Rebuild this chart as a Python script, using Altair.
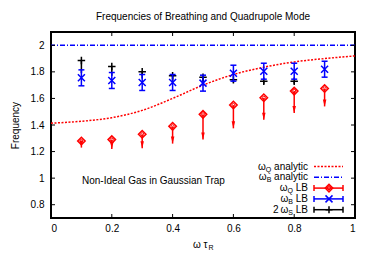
import altair as alt
import pandas as pd

FONT = "Liberation Sans"
RED = "#ff0000"
BLUE = "#0000ff"

# ---- data ----
lb_x = [0.1, 0.2, 0.3, 0.4, 0.5, 0.6, 0.7, 0.8, 0.9]
q_lb = [1.28, 1.29, 1.33, 1.39, 1.48, 1.55, 1.605, 1.655, 1.675]
q_lb_low = [1.23, 1.22, 1.225, 1.26, 1.29, 1.375, 1.44, 1.49, 1.54]
b_lb = [1.755, 1.735, 1.72, 1.72, 1.715, 1.79, 1.805, 1.805, 1.82]
b_err = [0.06, 0.06, 0.06, 0.06, 0.06, 0.06, 0.06, 0.06, 0.06]
s_x = [0.1, 0.2, 0.3, 0.4, 0.5, 0.6, 0.7, 0.8]
s2_lb = [1.885, 1.84, 1.80, 1.77, 1.76, 1.74, 1.73, 1.73]
s2_low = [1.79, 1.77, 1.75, 1.73, 1.72, 1.72, 1.71, 1.71]
qa_x = [0.0, 0.1, 0.2, 0.3, 0.4, 0.5, 0.6, 0.7, 0.8, 0.9, 1.0]
qa_y = [1.414, 1.428, 1.455, 1.51, 1.60, 1.70, 1.78, 1.835, 1.875, 1.90, 1.92]
b_analytic = [2.0]
x_ticks = [0.0, 0.2, 0.4, 0.6, 0.8, 1.0]
y_ticks = [0.8, 1.0, 1.2, 1.4, 1.6, 1.8, 2.0]

W, H = 304, 186

q_df = pd.DataFrame({"x": lb_x, "y": q_lb, "lo": q_lb_low})
b_df = pd.DataFrame({"x": lb_x, "y": b_lb})
b_df["lo"] = b_df["y"] - pd.Series(b_err)
b_df["hi"] = b_df["y"] + pd.Series(b_err)
s_df = pd.DataFrame({"x": s_x, "y": s2_lb, "lo": s2_low})
qa_df = pd.DataFrame({"x": qa_x, "y": qa_y})
ba_df = pd.DataFrame({"y": b_analytic})
xt_df = pd.DataFrame({"x": x_ticks[1:-1]})
yt_df = pd.DataFrame({"y": y_ticks})
one = pd.DataFrame({"k": [0]})

xs = alt.Scale(domain=[0, 1], nice=False, zero=False)
ys = alt.Scale(domain=[0.7, 2.1], nice=False, zero=False)
xaxis = alt.Axis(values=x_ticks, format="~g", title=None, labelPadding=5)
yaxis = alt.Axis(values=y_ticks, format="~g", title="Frequency", labelPadding=7,
                 titlePadding=10)


def X(f):
    return alt.X(f, type="quantitative", scale=xs, axis=xaxis)


def Y(f):
    return alt.Y(f, type="quantitative", scale=ys, axis=yaxis)


PLUS = "M-1,0L1,0M0,-1L0,1"
CROSS = "M-1,-1L1,1M-1,1L1,-1"

layers = []
# analytic curves
layers.append(alt.Chart(qa_df).mark_line(color=RED, strokeWidth=1.5, strokeDash=[2, 1.5],
                                         interpolate="monotone").encode(x=X("x"), y=Y("y")))
layers.append(alt.Chart(ba_df).mark_rule(color=BLUE, strokeWidth=1.5,
                                         strokeDash=[5, 2, 1, 2]).encode(y=Y("y")))
# omega_Q LB with downward arrows
layers.append(alt.Chart(q_df).mark_rule(color=RED, strokeWidth=1.5).encode(
    x=X("x"), y=Y("y"), y2="lo"))
layers.append(alt.Chart(q_df).mark_point(
    shape="M-0.5,-1L0.5,-1L0,1Z", filled=True, color=RED, size=49, yOffset=-3.5,
    opacity=1).encode(x=X("x"), y=Y("lo")))
layers.append(alt.Chart(q_df).mark_point(shape="diamond", filled=False, color=RED, size=56,
                                         strokeWidth=1.5, opacity=1).encode(x=X("x"), y=Y("y")))
layers.append(alt.Chart(q_df).mark_point(shape="circle", filled=False, color=RED, size=10,
                                         strokeWidth=1, opacity=1).encode(x=X("x"), y=Y("y")))

# 2 omega_S LB (drawn beneath the blue points)
layers.append(alt.Chart(s_df).mark_rule(color="black", strokeWidth=1.5).encode(
    x=X("x"), y=Y("y"), y2="lo"))
layers.append(alt.Chart(s_df).mark_point(shape=PLUS, filled=False, color="black", size=56,
                                         strokeWidth=1.5, opacity=1).encode(x=X("x"), y=Y("y")))

# omega_B LB
layers.append(alt.Chart(b_df).mark_rule(color=BLUE, strokeWidth=1.5).encode(
    x=X("x"), y=Y("lo"), y2="hi"))
for f in ("lo", "hi"):
    layers.append(alt.Chart(b_df).mark_tick(color=BLUE, orient="horizontal", size=6,
                                            thickness=1.5, opacity=1).encode(x=X("x"), y=Y(f)))
layers.append(alt.Chart(b_df).mark_point(shape=CROSS, filled=False, color=BLUE, size=49,
                                         strokeWidth=1.5, opacity=1).encode(x=X("x"), y=Y("y")))

# inward ticks on all four sides
layers.append(alt.Chart(xt_df).mark_rule(color="black", strokeWidth=1).encode(
    x=X("x"), y=alt.value(H), y2=alt.value(H - 4)))
layers.append(alt.Chart(xt_df).mark_rule(color="black", strokeWidth=1).encode(
    x=X("x"), y=alt.value(0), y2=alt.value(4)))
layers.append(alt.Chart(yt_df).mark_rule(color="black", strokeWidth=1).encode(
    y=Y("y"), x=alt.value(0), x2=alt.value(4)))
layers.append(alt.Chart(yt_df).mark_rule(color="black", strokeWidth=1).encode(
    y=Y("y"), x=alt.value(W), x2=alt.value(W - 4)))


def txt(text, x, y, size=10, align="right", dy=0):
    return alt.Chart(one).mark_text(text=text, align=align, baseline="middle", fontSize=size,
                                    font=FONT, dy=dy, color="black").encode(
        x=alt.value(x), y=alt.value(y))


# in-plot label
layers.append(txt("Non-Ideal Gas in Gaussian Trap", 31, 149, align="left"))

# legend
rows = [134.5, 145.3, 156.1, 166.9, 177.7]
TR = 257
SX0, SX1, SXC = 263, 292, 278
legend_items = [
    ("Q", " analytic", RED, "line"),
    ("B", " analytic", BLUE, "line"),
    ("Q", " LB", RED, "eb"),
    ("B", " LB", BLUE, "eb"),
    ("S", " LB", "black", "eb"),
]
tail_w = {" analytic": 36.7, " LB": 15.0}
sub_w = {"Q": 5.45, "B": 4.67, "S": 4.67}
OMEGA_W = 7.0
for i, (sub, tail, color, kind) in enumerate(legend_items):
    yy = rows[i]
    layers.append(txt(tail.strip(), TR, yy))
    sx = TR - tail_w[tail]
    layers.append(txt(sub, sx, yy, size=7, dy=3))
    ox = sx - sub_w[sub]
    layers.append(txt("ω", ox, yy))
    if i == 4:
        layers.append(txt("2", ox - OMEGA_W - 2.8, yy))
    if kind == "line":
        dash = [2, 1.5] if i == 0 else [5, 2, 1, 2]
        layers.append(alt.Chart(one).mark_rule(color=color, strokeWidth=1.5, strokeDash=dash).encode(
            x=alt.value(SX0), x2=alt.value(SX1), y=alt.value(yy)))
    else:
        layers.append(alt.Chart(one).mark_rule(color=color, strokeWidth=1.5).encode(
            x=alt.value(SX0), x2=alt.value(SX1), y=alt.value(yy)))
        for ex in (SX0, SX1):
            layers.append(alt.Chart(one).mark_rule(color=color, strokeWidth=1.5).encode(
                x=alt.value(ex), y=alt.value(yy - 3), y2=alt.value(yy + 3)))
        if i == 2:
            layers.append(alt.Chart(one).mark_point(shape="diamond", filled=False, color=color,
                                                    size=56, strokeWidth=1.5, opacity=1).encode(
                x=alt.value(SXC), y=alt.value(yy)))
            layers.append(alt.Chart(one).mark_point(shape="circle", filled=False, color=color,
                                                    size=10, strokeWidth=1, opacity=1).encode(
                x=alt.value(SXC), y=alt.value(yy)))
        elif i == 3:
            layers.append(alt.Chart(one).mark_point(shape=CROSS, filled=False,
                                                    color=color, size=49, strokeWidth=1.5,
                                                    opacity=1).encode(
                x=alt.value(SXC), y=alt.value(yy)))
        else:
            layers.append(alt.Chart(one).mark_point(shape=PLUS, filled=False,
                                                    color=color, size=49, strokeWidth=1.5,
                                                    opacity=1).encode(
                x=alt.value(SXC), y=alt.value(yy)))

# x axis title  "ω τ_R"
layers.append(txt("ω τ", 142, 213, align="left"))
layers.append(txt("R", 157.5, 213, size=7, align="left", dy=3))

chart = alt.layer(*layers).properties(
    width=W, height=H,
    title=alt.TitleParams("Frequencies of Breathing and Quadrupole Mode", fontSize=10,
                          font=FONT, fontWeight="normal", offset=10, color="black"),
    autosize=alt.AutoSizeParams(type="none"),
    padding={"left": 43, "top": 24, "right": 11, "bottom": 36},
).configure_view(stroke="black", strokeWidth=2).configure_axis(
    domain=False, ticks=False, grid=False, labelFont=FONT, labelFontSize=10,
    labelColor="black", titleFont=FONT, titleFontSize=10, titleFontWeight="normal",
    titleColor="black"
)

chart.save("out.html", embed_options={"renderer": "svg", "actions": False})
